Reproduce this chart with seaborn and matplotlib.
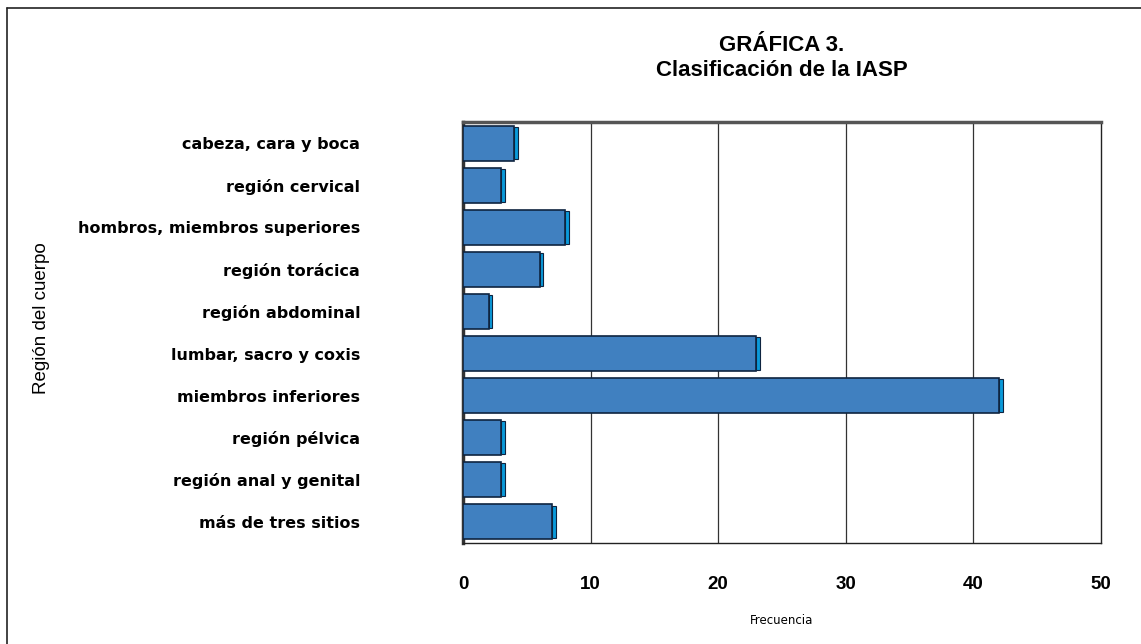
import matplotlib
matplotlib.use("Agg")
import matplotlib.pyplot as plt
import seaborn as sns
import pandas as pd
from matplotlib.lines import Line2D
from matplotlib import font_manager as fm

regiones = ["cabeza, cara y boca", "región cervical", "hombros, miembros superiores",
            "región torácica", "región abdominal", "lumbar, sacro y coxis",
            "miembros inferiores", "región pélvica", "región anal y genital",
            "más de tres sitios"]
frecuencia = [4, 3, 8, 6, 2, 23, 42, 3, 3, 7]
xticks = [0, 10, 20, 30, 40, 50]

df = pd.DataFrame({"region": regiones, "frecuencia": frecuencia})

sns.set_theme(style="white")
plt.rcParams['font.family'] = ['Liberation Sans', 'DejaVu Sans']
plt.rcParams['text.color'] = 'black'
plt.rcParams['axes.labelcolor'] = 'black'
plt.rcParams['xtick.color'] = 'black'
plt.rcParams['ytick.color'] = 'black'

fig = plt.figure(figsize=(11.41, 6.44), dpi=100)
fig.patch.set_facecolor("white")
ax = fig.add_axes([463/1141, 1-543/644, (1101-463)/1141, (543-122)/644])

# vertical grid lines
for t in xticks[1:-1]:
    ax.axvline(t, color="#333333", lw=0.9, zorder=0)

sns.barplot(data=df, x="frecuencia", y="region", orient="h", color="#4080C0",
            saturation=1, width=0.83, edgecolor="#0E2440", linewidth=1.2, ax=ax, zorder=3)

# 3D side faces
ypos = list(range(len(regiones)))
ax.barh(ypos, [0.3]*len(frecuencia), left=frecuencia, height=0.78,
        color="#0A9ADA", edgecolor="#0E2440", linewidth=0.8, zorder=2)

ax.set_xlim(0, 50)
ax.set_ylim(len(regiones)-0.5, -0.5)
ax.set_xticks(xticks)
ax.set_xticklabels([str(t) for t in xticks], fontsize=13.5, fontweight="bold",
                   family=["Liberation Sans"], color="black")
ax.tick_params(axis="x", length=0, pad=24)
ax.tick_params(axis="y", length=0, pad=74)
for lab in ax.get_yticklabels():
    lab.set_fontsize(11.5)
    lab.set_fontweight("bold")
    lab.set_family(["DejaVu Sans"])
    lab.set_color("black")
    lab.set_ha("right")

ax.set_xlabel("Frecuencia", fontsize=8.5, family=["DejaVu Sans"], labelpad=15, color="black")
ax.set_ylabel("")
fig.text(42/1141, 1-318/644, "Región del cuerpo", rotation=90, fontsize=13.5,
         ha="center", va="center", color="black")

ax.spines["top"].set_color("#555555")
ax.spines["top"].set_linewidth(2.5)
ax.spines["right"].set_color("#222222")
ax.spines["right"].set_linewidth(1)
ax.spines["bottom"].set_color("#222222")
ax.spines["bottom"].set_linewidth(1)
ax.spines["left"].set_color("#333333")
ax.spines["left"].set_linewidth(2.5)
for s in ["top", "right", "bottom", "left"]:
    ax.spines[s].set_visible(True)

fig.text(782/1141, 1-58/644, "GRÁFICA 3.\nClasificación de la IASP", fontsize=16,
         fontweight="bold", family=["Liberation Sans"], ha="center", va="center",
         linespacing=1.2, color="black")

# outer border (top and left)
fig.add_artist(Line2D([7/1141, 1], [1-8/644, 1-8/644], color="#222222", lw=1.2,
                      transform=fig.transFigure))
fig.add_artist(Line2D([7/1141, 7/1141], [0, 1-8/644], color="#222222", lw=1.2,
                      transform=fig.transFigure))

fig.savefig("out.png", dpi=100)
